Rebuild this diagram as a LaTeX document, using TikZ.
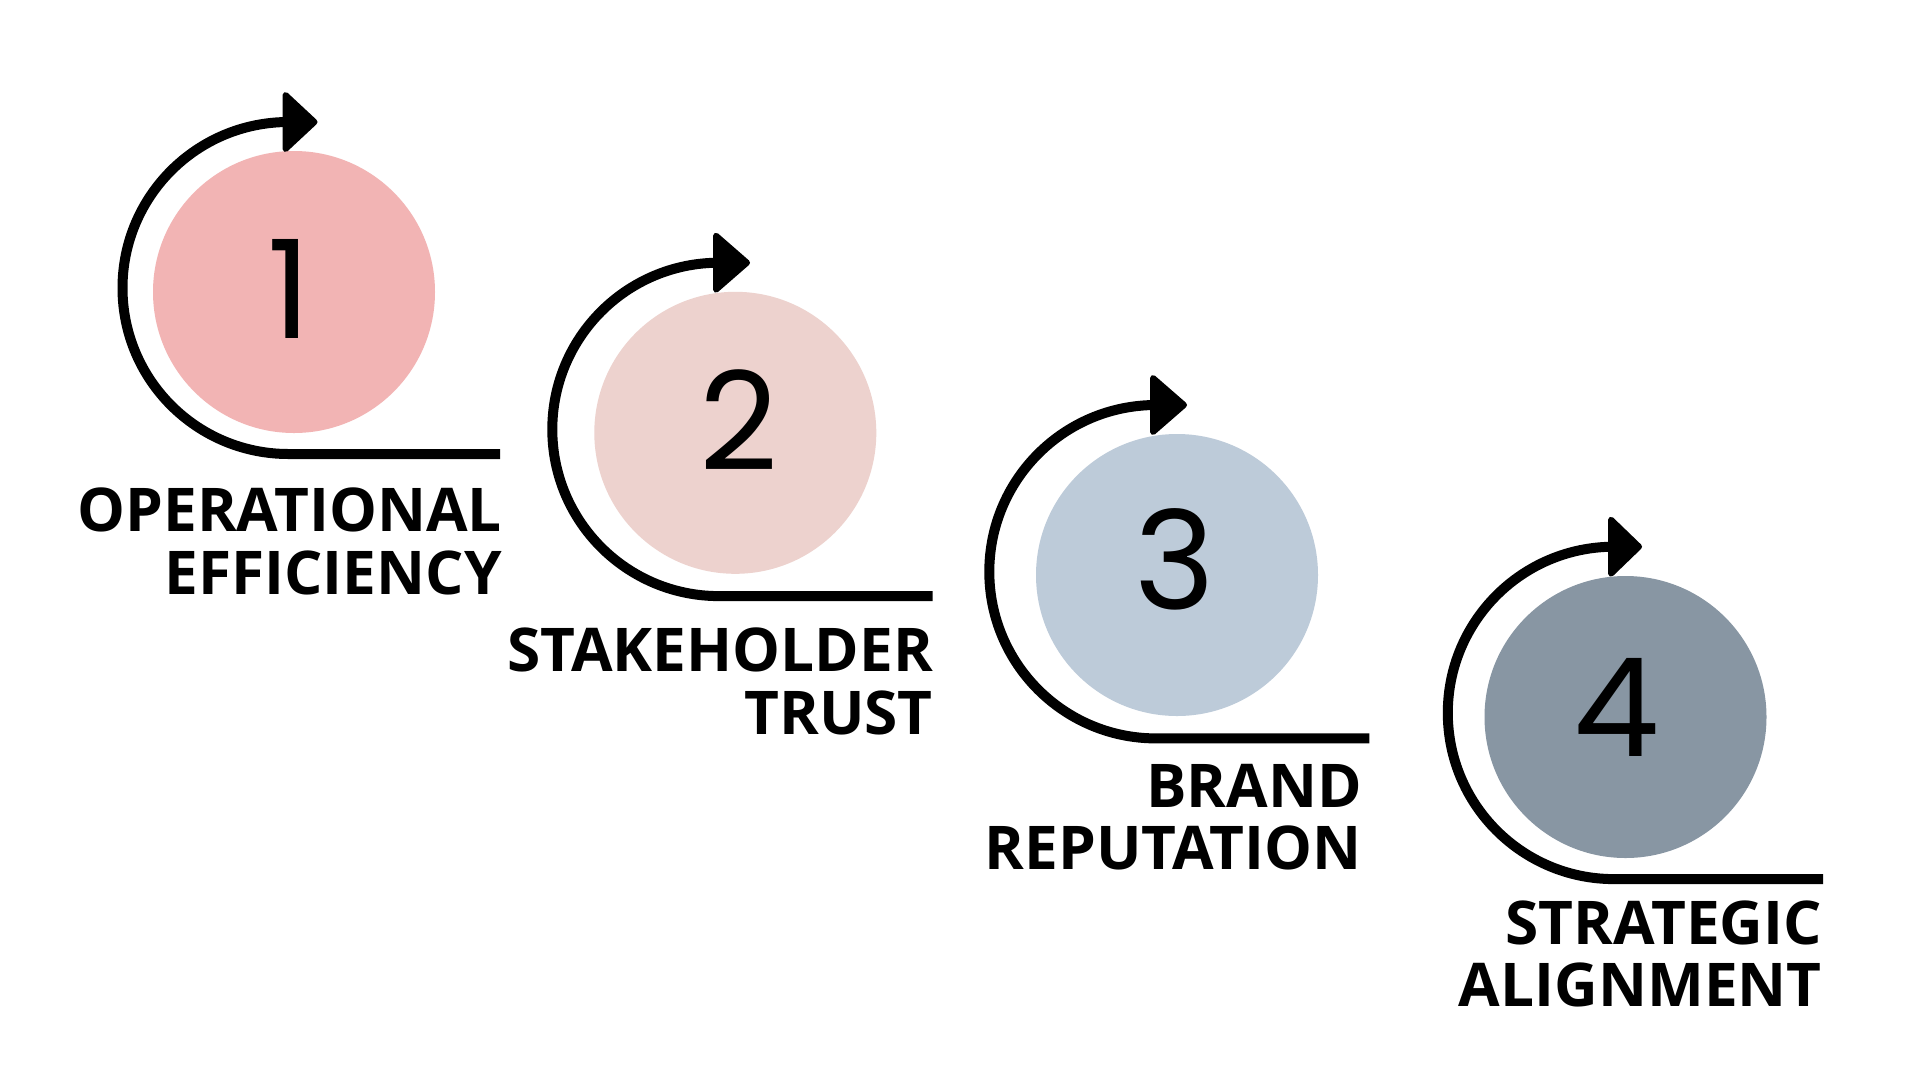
\documentclass[tikz,border=0pt]{standalone}
\usepackage{fontspec}
\newfontfamily\labelfont{Open Sans}
\newfontfamily\digitfont{Poppins}
\definecolor{cone}{HTML}{F2B4B4}
\definecolor{ctwo}{HTML}{EDD2CE}
\definecolor{cthree}{HTML}{BDCBD9}
\definecolor{cfour}{HTML}{8896A3}
\tikzset{
  arcline/.style={line width=10pt, line cap=butt, black},
  headtri/.style={fill=black, draw=black, line width=6pt, line join=round},
  disc/.style={circle, inner sep=0pt, minimum size=282pt},
  digit/.style={inner sep=0pt, anchor=base, font=\digitfont\fontsize{137}{137}\selectfont},
  steplabel/.style={inner sep=0pt, anchor=base east, font=\labelfont\bfseries\fontsize{60.3}{62}\selectfont}
}
\begin{document}
\begin{tikzpicture}[x=1pt,y=-1pt]
\useasboundingbox (0,0) rectangle (1920,1080);
\fill[white] (0,0) rectangle (1920,1080);

% ---- item 1
\node[disc, fill=cone] (c1) at (294,292) {};
\node[digit] (d1) at (289,338) {1};
\coordinate (t1) at (288.5,122);
\coordinate (e1) at (500,454);
\draw[arcline] (t1) arc[start angle=-90, end angle=-270, radius=166] -- (e1);
\fill[headtri] ([xshift=-3,yshift=-27]t1) -- ([xshift=26]t1) -- ([xshift=-3,yshift=27]t1) -- cycle;
\node[steplabel] (l1a) at (502,531) {OPERATIONAL};
\node[steplabel] (l1b) at (502,594) {EFFICIENCY};

% ---- item 2
\node[disc, fill=ctwo] (c2) at (735.3,432.8) {};
\node[digit] (d2) at (738.7,470) {2};
\coordinate (t2) at (719,262.7);
\coordinate (e2) at (932.7,596);
\draw[arcline] (t2) arc[start angle=-90, end angle=-270, radius=166.7] -- (e2);
\fill[headtri] ([xshift=-3,yshift=-27]t2) -- ([xshift=28]t2) -- ([xshift=-3,yshift=27]t2) -- cycle;
\node[steplabel] (l2a) at (933,671.7) {STAKEHOLDER};
\node[steplabel] (l2b) at (933,734) {TRUST};

% ---- item 3
\node[disc, fill=cthree] (c3) at (1177,575) {};
\node[digit] (d3) at (1174.7,609.3) {3};
\coordinate (t3) at (1156,405);
\coordinate (e3) at (1369.3,738.3);
\draw[arcline] (t3) arc[start angle=-90, end angle=-270, radius=166.7] -- (e3);
\fill[headtri] ([xshift=-3,yshift=-27]t3) -- ([xshift=28]t3) -- ([xshift=-3,yshift=27]t3) -- cycle;
\node[steplabel] (l3a) at (1362,807.3) {BRAND};
\node[steplabel] (l3b) at (1362,869) {REPUTATION};

% ---- item 4
\node[disc, fill=cfour] (c4) at (1625.5,717) {};
\node[digit] (d4) at (1616.7,756.7) {4};
\coordinate (t4) at (1614,546.7);
\coordinate (e4) at (1823,879);
\draw[arcline] (t4) arc[start angle=-90, end angle=-270, radius=166.2] -- (e4);
\fill[headtri] ([xshift=-3,yshift=-27]t4) -- ([xshift=25]t4) -- ([xshift=-3,yshift=27]t4) -- cycle;
\node[steplabel] (l4a) at (1822,944) {STRATEGIC};
\node[steplabel] (l4b) at (1822,1006) {ALIGNMENT};
\end{tikzpicture}
\end{document}
